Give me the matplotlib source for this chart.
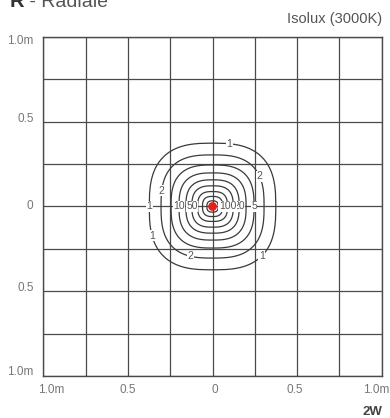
import numpy as np
import matplotlib
matplotlib.use('Agg')
import matplotlib.pyplot as plt
from matplotlib.transforms import blended_transform_factory

plt.rcParams['font.family'] = ['Liberation Sans', 'DejaVu Sans']

# isolux levels (lux) and the half-width (m) of each ring
levels = [1, 2, 5, 10, 20, 50, 100, 200, 500]
ring_radius = [0.373, 0.304, 0.245, 0.198, 0.157, 0.122, 0.088, 0.059, 0.033]

# where each ring gets its number
label_pos = [(0.10, 0.365), (-0.373, 0.0), (-0.35, -0.17), (0.28, -0.28),
             (0.26, 0.17), (-0.29, 0.09), (-0.13, -0.29),
             (0.245, 0.0), (-0.198, 0.0), (0.157, 0.0), (-0.122, 0.0), (0.075, 0.0)]

ticks = [-1.0, -0.5, 0.0, 0.5, 1.0]
x_labels = ['1.0m', '0.5', '0', '0.5', '1.0m']
y_labels = ['1.0m', '0.5', '0', '0.5', '1.0m']
grid_step = 0.25

# illuminance field: rounded-square rings
x = np.linspace(-1, 1, 801)
X, Y = np.meshgrid(x, x)
p = 2.8
R = (np.abs(X) ** p + np.abs(Y) ** p) ** (1 / p)
rr = np.array([0.0] + ring_radius[::-1] + [1.6])
ll = np.log10(np.array([3000] + levels[::-1] + [0.01]))
E = 10 ** np.interp(R, rr, ll)

fig = plt.figure(figsize=(3.9, 4.18), dpi=100)
ax = fig.add_axes([0.111, 0.1005, 0.868, 0.811])

line_col = '#4a4a4a'
g = np.arange(-1, 1.001, grid_step)
for v in g:
    ax.axvline(v, color=line_col, lw=0.9, zorder=1)
    ax.axhline(v, color=line_col, lw=0.9, zorder=1)

cs = ax.contour(X, Y, E, levels=levels, colors='#3a3a3a', linewidths=0.9, zorder=2)
labels = ax.clabel(cs, fmt='%d', fontsize=7.5, colors='#555555', inline=False,
                   manual=label_pos)
for t in labels:
    t.set_rotation(0)
    t.set_family(['Liberation Sans Narrow', 'Liberation Sans'])
    t.set_bbox(dict(boxstyle='square,pad=0.05', fc='white', ec='none'))
    t.set_zorder(4)

ax.scatter([0], [0], s=40, color='#e3201b', zorder=5, edgecolors='none')

ax.set_xlim(-1, 1)
ax.set_ylim(-1, 1)
ax.set_xticks(ticks)
ax.set_yticks(ticks)
ax.set_xticklabels([])
ax.set_yticklabels([])
ax.tick_params(length=0)
for s in ax.spines.values():
    s.set_color(line_col)
    s.set_linewidth(1.0)

# axis numbers, end labels pulled slightly inward
lab_kw = dict(fontsize=8.5, color='#777777', textcoords='offset points')
tx = blended_transform_factory(ax.transData, ax.transAxes)
x_shift = [6, 0, 1.5, -2, -4]
for i, (v, s) in enumerate(zip(ticks, x_labels)):
    ax.annotate(s, xy=(v, 0), xycoords=tx, xytext=(x_shift[i], -10),
                ha='center', va='center', annotation_clip=False, **lab_kw)
ty = blended_transform_factory(ax.transAxes, ax.transData)
y_shift = [-3, 2, 0, 2, 3]
for i, (v, s) in enumerate(zip(ticks[::-1], y_labels)):
    ax.annotate(s, xy=(0, v), xycoords=ty, xytext=(-7, y_shift[i]),
                ha='right', va='center', annotation_clip=False, **lab_kw)

fig.text(10 / 390, 1 - 7 / 418, 'R', fontsize=14.5, fontweight='bold', color='#333333', va='baseline')
fig.text(24 / 390, 1 - 7 / 418, ' - Radiale', fontsize=14, color='#555555', va='baseline')
fig.text(382 / 390, 1 - 23 / 418, 'Isolux (3000K)', fontsize=10.5, color='#555555', ha='right', va='baseline')
fig.text(382 / 390, 1 - 415 / 418, '2W', fontsize=9.5, fontweight='bold', color='#444444', ha='right', va='baseline')

fig.savefig('out.png', dpi=100)
